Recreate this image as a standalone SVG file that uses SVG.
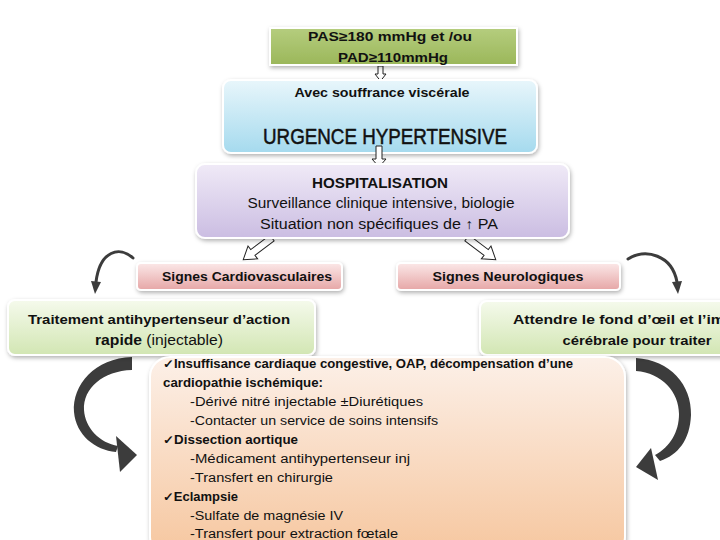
<svg xmlns="http://www.w3.org/2000/svg" width="720" height="540" viewBox="0 0 720 540">
<defs>
<filter id="sh" x="-10%" y="-20%" width="120%" height="150%">
<feDropShadow dx="1" dy="2" stdDeviation="2" flood-color="#000" flood-opacity="0.3"/>
</filter>
<linearGradient id="gGreen" x1="0" y1="0" x2="0" y2="1"><stop offset="0" stop-color="#b5cd7e"/><stop offset="1" stop-color="#9bb75a"/></linearGradient>
<linearGradient id="gBlue" x1="0" y1="0" x2="0" y2="1"><stop offset="0" stop-color="#e8f6fb"/><stop offset="1" stop-color="#a5daee"/></linearGradient>
<linearGradient id="gPurple" x1="0" y1="0" x2="0" y2="1"><stop offset="0" stop-color="#f0eaf7"/><stop offset="1" stop-color="#cbbde2"/></linearGradient>
<linearGradient id="gPink" x1="0" y1="0" x2="0" y2="1"><stop offset="0" stop-color="#fbe8e8"/><stop offset="1" stop-color="#e6a6a6"/></linearGradient>
<linearGradient id="gLGreen" x1="0" y1="0" x2="0" y2="1"><stop offset="0" stop-color="#f5faec"/><stop offset="1" stop-color="#d2e6b3"/></linearGradient>
<linearGradient id="gPeach" x1="0" y1="0" x2="0" y2="1"><stop offset="0" stop-color="#fcf0e8"/><stop offset="1" stop-color="#f6c69e"/></linearGradient>
<polygon id="hollowDiag" points="-3.5,0 3.5,0 3.5,24 8,24 0,36 -8,24 -3.5,24"/>
</defs>
<style>
.box{stroke:#ffffff;stroke-width:2;filter:url(#sh);}
text{font-family:"Liberation Sans",Arial,sans-serif;fill:#111;}
.b{font-weight:bold;}
.c{text-anchor:middle;}
.hollow{fill:#ffffff;stroke:#222;stroke-width:1;}
.curve{fill:#3c3c3c;}
.thin{fill:none;stroke:#3c3c3c;stroke-width:3;stroke-linecap:round;}
</style>
<rect width="720" height="540" fill="#ffffff"/>

<g id="connectors">
<polygon class="hollow" points="378,66 383,66 383,74 386,74 380.5,81 375,74 378,74"/>
<polygon class="hollow" points="378,103 384,103 384,110 388,110 381,117 374,110 378,110"/>
<use href="#hollowDiag" class="hollow" transform="translate(272,238) rotate(53)"/>
<use href="#hollowDiag" class="hollow" transform="translate(467,238) rotate(-53)"/>
<path class="thin" d="M133,258 C120,246 100,250 96,282"/>
<polygon class="curve" points="91,281 101,282 95,294"/>
<path class="thin" d="M628,259 C646,248 672,255 677,282"/>
<polygon class="curve" points="672,282 682,281 678,294"/>
<path class="curve" d="M132,357 C95,358 72,385 74,412 C76,435 95,450 116,452 L118,446 C100,443 85,428 84,410 C83,388 103,371 132,370 Z"/>
<polygon class="curve" points="116,436 137,455 120,472"/>
<path class="curve" d="M636,358 C670,360 692,385 691,415 C690,440 678,455 660,461 L655,455 C670,447 679,432 679,414 C679,392 662,373 636,371 Z"/>
<polygon class="curve" points="651,448 636,467 658,480"/>
</g>

<g id="n-pas">
<rect class="box" x="270" y="28" width="247" height="37" fill="url(#gGreen)"/>
<text class="b c" x="390" y="41" font-size="13" textLength="164" lengthAdjust="spacingAndGlyphs">PAS≥180 mmHg et /ou</text>
<text class="b c" x="393" y="62" font-size="13" textLength="110" lengthAdjust="spacingAndGlyphs">PAD≥110mmHg</text>
</g>

<g id="n-urgence">
<rect class="box" x="223" y="80" width="314" height="73" rx="8" fill="url(#gBlue)"/>
<text class="b c" x="382" y="97" font-size="13" textLength="175" lengthAdjust="spacingAndGlyphs">Avec souffrance viscérale</text>
<text class="c" x="385" y="144" font-size="22" stroke="#111" stroke-width="0.5" textLength="244" lengthAdjust="spacingAndGlyphs">URGENCE HYPERTENSIVE</text>
</g>

<polygon class="hollow" points="376,146 382,146 382,159 386,159 379,167 372,159 376,159"/>

<g id="n-hosp">
<rect class="box" x="196" y="164" width="373" height="74" rx="9" fill="url(#gPurple)"/>
<text class="b c" x="380" y="188" font-size="14" textLength="136" lengthAdjust="spacingAndGlyphs">HOSPITALISATION</text>
<text class="c" x="381" y="208" font-size="14" textLength="267" lengthAdjust="spacingAndGlyphs">Surveillance clinique intensive, biologie</text>
<text class="c" x="379" y="229" font-size="14" textLength="238" lengthAdjust="spacingAndGlyphs">Situation non spécifiques de ↑ PA</text>
</g>

<g id="n-cardio">
<rect class="box" x="137" y="263" width="205" height="27" rx="4" fill="url(#gPink)"/>
<text class="b c" x="247" y="281" font-size="13" textLength="170" lengthAdjust="spacingAndGlyphs">Signes Cardiovasculaires</text>
</g>

<g id="n-neuro">
<rect class="box" x="397" y="263" width="223" height="27" rx="4" fill="url(#gPink)"/>
<text class="b c" x="508" y="281" font-size="13" textLength="151" lengthAdjust="spacingAndGlyphs">Signes Neurologiques</text>
</g>

<g id="n-traitement">
<rect class="box" x="8" y="300" width="307" height="55" rx="7" fill="url(#gLGreen)"/>
<text class="b c" x="159" y="324" font-size="13" textLength="262" lengthAdjust="spacingAndGlyphs">Traitement antihypertenseur d’action</text>
<text class="c" x="159" y="345" font-size="14" textLength="128" lengthAdjust="spacingAndGlyphs"><tspan class="b">rapide</tspan> (injectable)</text>
</g>

<g id="n-attendre">
<rect class="box" x="480" y="301" width="260" height="54" rx="7" fill="url(#gLGreen)"/>
<text class="b" x="513" y="324" font-size="13" textLength="258" lengthAdjust="spacingAndGlyphs">Attendre le fond d’œil et l’imagerie</text>
<text class="b c" x="637" y="345" font-size="13" textLength="149" lengthAdjust="spacingAndGlyphs">cérébrale pour traiter</text>
</g>

<g id="n-details">
<rect class="box" x="150" y="357" width="475" height="200" rx="20" fill="url(#gPeach)"/>
<text class="b" x="163" y="368" font-size="12" textLength="410" lengthAdjust="spacingAndGlyphs">✓Insuffisance cardiaque congestive, OAP, décompensation d’une</text>
<text class="b" x="163" y="387" font-size="12" textLength="160" lengthAdjust="spacingAndGlyphs">cardiopathie ischémique:</text>
<text x="190" y="406" font-size="12" textLength="233" lengthAdjust="spacingAndGlyphs">-Dérivé nitré injectable ±Diurétiques</text>
<text x="190" y="425" font-size="12" textLength="248" lengthAdjust="spacingAndGlyphs">-Contacter un service de soins intensifs</text>
<text class="b" x="163" y="444" font-size="12" textLength="135" lengthAdjust="spacingAndGlyphs">✓Dissection aortique</text>
<text x="190" y="463" font-size="12" textLength="220" lengthAdjust="spacingAndGlyphs">-Médicament antihypertenseur inj</text>
<text x="190" y="482" font-size="12" textLength="143" lengthAdjust="spacingAndGlyphs">-Transfert en chirurgie</text>
<text class="b" x="163" y="501" font-size="12" textLength="75" lengthAdjust="spacingAndGlyphs">✓Eclampsie</text>
<text x="190" y="520" font-size="12" textLength="153" lengthAdjust="spacingAndGlyphs">-Sulfate de magnésie IV</text>
<text x="190" y="538" font-size="12" textLength="208" lengthAdjust="spacingAndGlyphs">-Transfert pour extraction fœtale</text>
</g>
</svg>
